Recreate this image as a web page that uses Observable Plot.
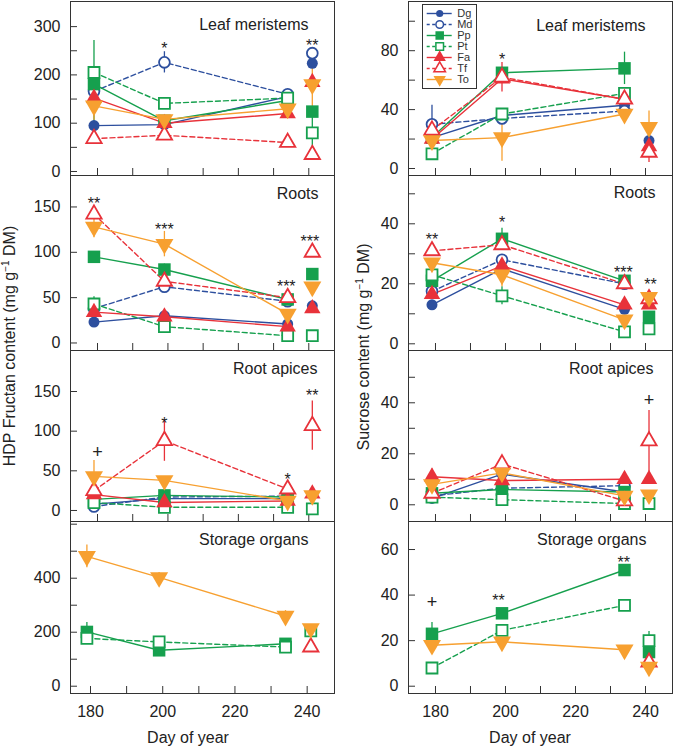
<!DOCTYPE html>
<html><head><meta charset="utf-8">
<script src="https://cdn.jsdelivr.net/npm/d3@7"></script>
<script src="https://cdn.jsdelivr.net/npm/@observablehq/plot@0.6"></script>
<style>
body{margin:0;background:#fff;}
#chart{position:relative;width:673px;height:746px;font-family:"Liberation Sans",Arial,Helvetica,sans-serif;color:#222;overflow:hidden;background:#fff}
.panel{position:absolute}
.ylab{position:absolute;white-space:nowrap;font-size:16px;line-height:18px;transform:translate(-50%,-50%) rotate(-90deg);color:#222}
.ylab sup{font-size:10px;line-height:0;vertical-align:6px}
#legend{position:absolute;left:422px;top:4px;width:53px;height:83px;border:1px solid #333;background:#fff}
</style></head><body>
<div id="chart">
  <div class="ylab" style="left:10px;top:346px">HDP Fructan content (mg g<sup>−1</sup> DM)</div>
  <div class="ylab" style="left:364px;top:347px">Sucrose content (mg g<sup>−1</sup> DM)</div>
</div>
<script>
// ---------------- data ----------------
const days = [179, 199, 234, 241];
const species = ["Dg", "Md", "Pp", "Pt", "Fa", "Tf", "To"];
const xTickValues = [180, 190, 200, 210, 220, 230, 240];
const xTickLabels = [180, 200, 220, 240];
const xLabel = "Day of year";
const panelTitles = ["Leaf meristems", "Roots", "Root apices", "Storage organs"];

// rows: Dg, Md, Pp, Pt, Fa, Tf, To ; columns: days
const fructanLeaf = [
  [95, 97, 155, 224],
  [166, 226, 160, 245],
  [181, 105, 147, 124],
  [205, 141, 152, 80],
  [152, 100, 120, 185],
  [68, 75, 60, 35],
  [136, 108, 130, 180]
];
const fructanLeafErr = [
  [null, null, null, null],
  [null, 22, 10, 12],
  [90, null, null, null],
  [null, 12, null, 35],
  [15, null, null, null],
  [null, null, null, null],
  [30, null, null, 55]
];
const fructanRoots = [
  [23, 30, 21, 41],
  [38, 62, 46, null],
  [95, 81, 48, 76],
  [43, 18, 8, 8],
  [34, 29, 18, 38],
  [142, 68, 50, 100],
  [128, 109, 32, 62]
];
const fructanRootsErr = [
  [null, null, null, null],
  [null, 4, null, null],
  [null, 6, null, null],
  [8, null, null, null],
  [null, null, null, null],
  [null, null, null, null],
  [12, 14, null, null]
];
const fructanApices = [
  [8, 15, 15, null],
  [5, 17, 18, null],
  [14, 19, 17, null],
  [10, 4, 4, 2],
  [20, 10, 12, 21],
  [25, 88, 27, 107],
  [43, 38, 12, 19]
];
const fructanApicesErr = [
  [null, null, null, null],
  [null, null, null, null],
  [null, null, null, null],
  [null, null, null, null],
  [null, null, null, null],
  [null, 26, null, 31],
  [20, null, null, null]
];
const fructanStorage = [
  [null, null, null, null],
  [null, null, null, null],
  [201, 133, 157, null],
  [177, 164, 145, 205],
  [null, null, null, null],
  [null, null, null, 145],
  [481, 403, 260, 214]
];
const fructanStorageErr = [
  [null, null, null, null],
  [null, null, null, null],
  [35, null, null, null],
  [null, null, null, null],
  [null, null, null, null],
  [null, null, null, null],
  [42, 18, 20, null]
];
const sucroseLeaf = [
  [21, 36, 43, 19],
  [30, 34, 39, null],
  [21, 65, 68, null],
  [10, 37, 51, null],
  [20, 61, 47, 15],
  [26, 62, 47, 11],
  [19, 21, 37, 28]
];
const sucroseLeafErr = [
  [null, null, null, null],
  [13, 4, null, null],
  [null, null, 11, null],
  [null, null, null, null],
  [null, null, null, null],
  [null, 10, null, 7],
  [null, 16, null, 11]
];
const sucroseRoots = [
  [13, 25, 11.5, null],
  [17.5, 28, 20, null],
  [21, 35, 21, 9],
  [23, 16, 4, 5],
  [16.5, 26, 13, 13],
  [31, 33, 20, 15],
  [27, 23, 8, 15.5]
];
const sucroseRootsErr = [
  [null, null, null, null],
  [null, null, null, null],
  [null, 3.5, null, null],
  [null, 3, null, null],
  [null, null, null, null],
  [null, null, null, null],
  [null, 4, null, null]
];
const sucroseApices = [
  [2.5, 12, 5, null],
  [3.5, 6.5, 7.5, null],
  [4.5, 6, 5, null],
  [3, 2, 0.5, 0.5],
  [11, 9.5, 10, 10],
  [4.5, 16, 1.5, 25],
  [8, 12.5, 3.5, 4]
];
const sucroseApicesErr = [
  [null, null, null, null],
  [null, null, null, null],
  [null, null, null, null],
  [null, null, null, null],
  [3, null, null, null],
  [null, 3, null, 12],
  [null, null, null, null]
];
const sucroseStorage = [
  [null, null, null, null],
  [null, null, null, null],
  [23, 32, 51, 15],
  [8, 24.5, 35.5, 20],
  [null, null, null, null],
  [null, null, null, 10.5],
  [18, 19.5, 16, 8.5]
];
const sucroseStorageErr = [
  [null, null, null, null],
  [null, null, null, null],
  [5, null, null, null],
  [null, null, null, 4],
  [null, null, null, null],
  [null, null, null, null],
  [null, null, null, null]
];
// significance labels: [day, value, label]
const sigFructanLeaf = [[199, 262, "*"], [241, 268, "**"]];
const sigFructanRoots = [[179, 158, "**"], [199, 129, "***"], [233.6, 66, "***"], [240.3, 116, "***"]];
const sigFructanApices = [[180, 73, "+"], [199, 114, "*"], [234, 44, "*"], [241, 149, "**"]];
const sigFructanStorage = [];
const sigSucroseLeaf = [[199, 76.5, "*"]];
const sigSucroseRoots = [[179, 36, "**"], [199, 41.5, "*"], [233.7, 25, "***"], [241.4, 21, "**"]];
const sigSucroseApices = [[241, 41, "+"]];
const sigSucroseStorage = [[179, 37, "+"], [198, 39, "**"], [233.8, 56, "**"]];

// ---------------- styles ----------------
const colors = ["#2d4f9e", "#2d4f9e", "#16a04e", "#16a04e", "#e8323a", "#e8323a", "#f7a030"];
const open = [false, true, false, true, false, true, false];
const dashed = [false, true, false, true, false, true, false];
const triDown = {
  draw(ctx, size) {
    const y = -Math.sqrt(size / (Math.sqrt(3) * 3));
    ctx.moveTo(0, -y * 2);
    ctx.lineTo(-Math.sqrt(3) * y, y);
    ctx.lineTo(Math.sqrt(3) * y, y);
    ctx.closePath();
  }
};
const symbols = ["circle", "circle", "square", "square", "triangle", "triangle", triDown];
const radii = [5.5, 5.4, 7.05, 6.2, 6.1, 5.7, 6.7];
const legendRadii = [3.6, 3.8, 4.8, 4.3, 4.6, 4.3, 4.6];
const font = '"Liberation Sans", Arial, Helvetica, sans-serif';
const ink = "#333";

const chart = document.getElementById("chart");

function panel(cfg) {
  const {left, top, frameH, width, mL, mR, mB, xDomain, yDomain, yTicks, yLabels, values, errors, sigs, title, tdx, tdy, bottom} = cfg;
  const frameW = width - mL - mR;
  const rows = [];
  species.forEach((sp, i) => days.forEach((day, j) => {
    const v = values[i][j];
    if (v != null) rows.push({sp, i, day, v, e: errors[i][j]});
  }));
  const marks = [];
  marks.push(Plot.tickY(yTicks, {y: d => d, insetRight: frameW - 7, stroke: ink, strokeWidth: 1}));
  marks.push(Plot.tickX(xTickValues, {x: d => d, insetTop: frameH - 7, stroke: ink, strokeWidth: 1}));
  marks.push(Plot.axisY({ticks: yLabels, tickSize: 0, tickPadding: 10, label: null, fontSize: 16}));
  species.forEach((sp, i) => {
    const rs = rows.filter(r => r.i === i && r.e != null);
    if (rs.length) marks.push(Plot.ruleX(rs, {x: "day", y1: r => r.v - r.e, y2: r => r.v + r.e, stroke: colors[i], strokeWidth: 1.3}));
  });
  species.forEach((sp, i) => {
    const rs = rows.filter(r => r.i === i && r.day < 240);
    if (rs.length > 1) marks.push(Plot.line(rs, {x: "day", y: "v", stroke: colors[i], strokeWidth: 1.4, strokeDasharray: dashed[i] ? "5,3" : null}));
  });
  species.forEach((sp, i) => {
    const rs = rows.filter(r => r.i === i);
    if (rs.length) marks.push(Plot.dot(rs, {
      x: "day", y: "v", symbol: symbols[i], r: radii[i],
      fill: open[i] ? "white" : colors[i],
      stroke: open[i] ? colors[i] : "none",
      strokeWidth: open[i] ? 1.8 : 0
    }));
  });
  const stars = sigs.filter(s => s[2] !== "+");
  const plus = sigs.filter(s => s[2] === "+");
  if (stars.length) marks.push(Plot.text(stars, {x: d => d[0], y: d => d[1], text: d => d[2], dy: 4, fontSize: 16, fill: "#222"}));
  if (plus.length) marks.push(Plot.text(plus, {x: d => d[0], y: d => d[1], text: d => d[2], fontSize: 18, fill: "#222"}));
  marks.push(Plot.text([title], {text: d => d, frameAnchor: "top-right", textAnchor: "end", lineAnchor: "top", dx: tdx, dy: tdy, fontSize: 16, fill: "#222"}));
  if (bottom) {
    marks.push(Plot.axisX({ticks: xTickLabels, tickSize: 0, tickPadding: 12, label: null, fontSize: 16}));
    marks.push(Plot.text([xLabel], {x: 207, text: d => d, frameAnchor: "bottom", lineAnchor: "top", dy: 38, fontSize: 16, fill: "#222"}));
  }
  marks.push(Plot.frame({stroke: ink, strokeWidth: 1}));
  const svg = Plot.plot({
    width, height: frameH + mB,
    marginLeft: mL, marginRight: mR, marginTop: 0, marginBottom: mB,
    x: bottom ? {domain: xDomain} : {domain: xDomain, axis: null},
    y: {domain: yDomain},
    style: {background: "none", overflow: "visible", fontFamily: font, fontSize: "16px", color: "#222"},
    marks
  });
  const wrap = document.createElement("div");
  wrap.className = "panel";
  wrap.style.left = left + "px";
  wrap.style.top = top + "px";
  wrap.appendChild(svg);
  chart.appendChild(wrap);
}

const L = {left: 0, width: 336, mL: 70, mR: 2};
const R = {left: 340, width: 333, mL: 68, mR: 1};
const xL = [172.33, 247.3], xL4 = [174.46, 247.57], xR = [172.29, 247.71];

panel({...L, top: 1, frameH: 174, mB: 0, xDomain: xL, yDomain: [-8.3, 352], yTicks: [0, 50, 100, 150, 200, 250, 300], yLabels: [0, 100, 200, 300], values: fructanLeaf, errors: fructanLeafErr, sigs: sigFructanLeaf, title: panelTitles[0], tdx: -26, tdy: 17});
panel({...L, top: 175, frameH: 175, mB: 0, xDomain: xL, yDomain: [-8.3, 184.7], yTicks: [0, 50, 100, 150], yLabels: [0, 50, 100, 150], values: fructanRoots, errors: fructanRootsErr, sigs: sigFructanRoots, title: panelTitles[1], tdx: -16, tdy: 11.7});
panel({...L, top: 350, frameH: 171, mB: 0, xDomain: xL, yDomain: [-13.9, 201.7], yTicks: [0, 50, 100, 150], yLabels: [0, 50, 100, 150], values: fructanApices, errors: fructanApicesErr, sigs: sigFructanApices, title: panelTitles[2], tdx: -17, tdy: 11.7});
panel({...L, top: 521, frameH: 172, mB: 53, xDomain: xL4, yDomain: [-27, 610], yTicks: [0, 100, 200, 300, 400, 500, 600], yLabels: [0, 200, 400], values: fructanStorage, errors: fructanStorageErr, sigs: sigFructanStorage, title: panelTitles[3], tdx: -26, tdy: 11.7, bottom: true});

panel({...R, top: 1, frameH: 174, mB: 0, xDomain: xR, yDomain: [-4.75, 113.4], yTicks: [0, 20, 40, 60, 80, 100], yLabels: [0, 40, 80], values: sucroseLeaf, errors: sucroseLeafErr, sigs: sigSucroseLeaf, title: panelTitles[0], tdx: -27, tdy: 18});
panel({...R, top: 175, frameH: 175, mB: 0, xDomain: xR, yDomain: [-2.23, 56.1], yTicks: [0, 10, 20, 30, 40, 50], yLabels: [0, 20, 40], values: sucroseRoots, errors: sucroseRootsErr, sigs: sigSucroseRoots, title: panelTitles[1], tdx: -17, tdy: 11});
panel({...R, top: 350, frameH: 171, mB: 0, xDomain: xR, yDomain: [-6.55, 60.5], yTicks: [0, 10, 20, 30, 40, 50], yLabels: [0, 20, 40], values: sucroseApices, errors: sucroseApicesErr, sigs: sigSucroseApices, title: panelTitles[2], tdx: -19, tdy: 11.7});
panel({...R, top: 521, frameH: 172, mB: 53, xDomain: xR, yDomain: [-3.2, 72.3], yTicks: [0, 20, 40, 60], yLabels: [0, 20, 40, 60], values: sucroseStorage, errors: sucroseStorageErr, sigs: sigSucroseStorage, title: panelTitles[3], tdx: -26, tdy: 11.7, bottom: true});

// legend
const legend = document.createElement("div");
legend.id = "legend";
const legendMarks = [];
species.forEach((sp, i) => legendMarks.push(Plot.ruleY([sp], {y: d => d, x1: 0, x2: 1, stroke: colors[i], strokeWidth: 1.4, strokeDasharray: dashed[i] ? "3,2.5" : null})));
species.forEach((sp, i) => legendMarks.push(Plot.dot([sp], {x: 0.5, y: d => d, symbol: symbols[i], r: legendRadii[i], fill: open[i] ? "white" : colors[i], stroke: open[i] ? colors[i] : "none", strokeWidth: open[i] ? 1.5 : 0})));
legendMarks.push(Plot.text(species, {x: 1, y: d => d, text: d => d, dx: 5, textAnchor: "start", fontSize: 11, fill: "#333"}));
legend.appendChild(Plot.plot({
  width: 53, height: 83, marginLeft: 3.7, marginRight: 24.3, marginTop: 6, marginBottom: 7,
  x: {domain: [0, 1], axis: null},
  y: {type: "point", domain: species, padding: 0, axis: null},
  style: {background: "none", overflow: "visible", fontFamily: font, fontSize: "11px"},
  marks: legendMarks
}));
chart.appendChild(legend);
</script>
</body></html>
